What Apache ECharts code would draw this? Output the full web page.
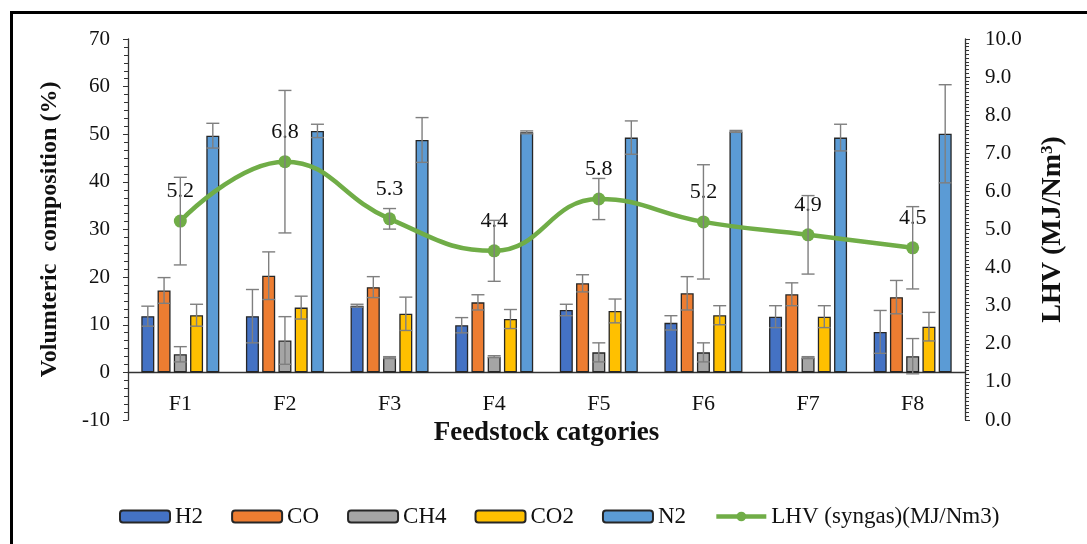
<!DOCTYPE html>
<html>
<head>
<meta charset="utf-8">
<script src="https://cdn.jsdelivr.net/npm/echarts@6/dist/echarts.min.js"></script>
<style>html,body{margin:0;padding:0;background:#fff}#c{width:1087px;height:544px}</style>
</head>
<body>
<div id="c"></div>
<script>
const categories = ['F1','F2','F3','F4','F5','F6','F7','F8'];
const H2 = [11.8, 11.8, 14.0, 9.9, 13.1, 10.4, 11.7, 8.5];
const H2err = [2.1, 5.6, 0.3, 1.6, 1.2, 1.5, 2.3, 4.5];
const CO = [17.2, 20.3, 17.9, 14.7, 18.7, 16.6, 16.4, 15.8];
const COerr = [2.7, 5.0, 2.2, 1.6, 1.8, 3.5, 2.4, 3.5];
const CH4 = [3.8, 6.7, 3.1, 3.3, 4.2, 4.2, 3.1, 3.4];
const CH4err = [1.6, 5.0, 0.2, 0.2, 2.0, 2.0, 0.2, 3.7];
const CO2 = [12.0, 13.6, 12.3, 11.2, 12.9, 12.0, 11.7, 9.6];
const CO2err = [2.3, 2.4, 3.5, 2.0, 2.5, 2.0, 2.3, 3.0];
const N2 = [49.7, 50.7, 48.8, 50.4, 49.3, 50.6, 49.3, 50.1];
const N2err = [2.6, 1.4, 4.7, 0.3, 3.5, 0.2, 2.8, 10.3];
const LHV = [5.22, 6.78, 5.28, 4.44, 5.80, 5.20, 4.86, 4.52];
const LHVerr = [1.15, 1.87, 0.27, 0.8, 0.54, 1.5, 1.03, 1.08];

const FONT = '"Liberation Serif", "Times New Roman", serif';
const BAR_W = 13;
const GAP_RATIO = 0.25;
const barNames = ['H2','CO','CH4','CO2','N2'];
const barData = [H2, CO, CH4, CO2, N2];
const barErr = [H2err, COerr, CH4err, CO2err, N2err];
const barColors = ['#4472C4','#ED7D31','#A5A5A5','#FFC000','#5B9BD5'];
const LINE_NAME = 'LHV (syngas)(MJ/Nm3)';

function errSeries(values, errs, idx, count, yAxisIndex) {
  const data = values.map((v, i) => [i, v - errs[i], v + errs[i]]);
  return {
    type: 'custom',
    yAxisIndex: yAxisIndex,
    z: 10,
    silent: true,
    data: data,
    renderItem: function (params, api) {
      const gap = BAR_W * GAP_RATIO;
      const total = count * BAR_W + (count - 1) * gap;
      const off = count > 1 ? (-total / 2 + BAR_W / 2 + idx * (BAR_W + gap)) : 0;
      const lo = api.coord([api.value(0), api.value(1)]);
      const hi = api.coord([api.value(0), api.value(2)]);
      const x = lo[0] + off;
      const hw = 6.5;
      const st = { stroke: '#7F7F7F', lineWidth: 1.4 };
      return {
        type: 'group',
        children: [
          { type: 'line', shape: { x1: x, y1: lo[1], x2: x, y2: hi[1] }, style: st },
          { type: 'line', shape: { x1: x - hw, y1: lo[1], x2: x + hw, y2: lo[1] }, style: st },
          { type: 'line', shape: { x1: x - hw, y1: hi[1], x2: x + hw, y2: hi[1] }, style: st }
        ]
      };
    }
  };
}

const series = [];
barNames.forEach((n, i) => {
  series.push({
    name: n, type: 'bar', data: barData[i], barWidth: BAR_W, barGap: (GAP_RATIO * 100) + '%',
    itemStyle: { color: barColors[i], borderColor: '#262626', borderWidth: 1.3 }
  });
});
series.push({
  name: LINE_NAME, type: 'line', yAxisIndex: 1, data: LHV, smooth: 0.45,
  symbol: 'circle', symbolSize: 13, z: 5,
  lineStyle: { color: '#70AD47', width: 4.5 },
  itemStyle: { color: '#70AD47' },
  label: { show: true, position: 'top', distance: 12, color: '#111', fontFamily: FONT, fontSize: 22,
           formatter: p => p.value.toFixed(1) }
});
barNames.forEach((n, i) => series.push(errSeries(barData[i], barErr[i], i, 5, 0)));
series.push(errSeries(LHV, LHVerr, 0, 1, 1));

const chart = echarts.init(document.getElementById('c'));
chart.setOption({
  animation: false,
  backgroundColor: '#fff',
  textStyle: { fontFamily: FONT },
  grid: { left: 128, right: 122, top: 39, bottom: 124, containLabel: false },
  graphic: [{ type: 'rect', left: 9, top: 10, shape: { width: 1100, height: 600 },
              style: { fill: 'none', stroke: '#000', lineWidth: 3 }, silent: true }],
  legend: {
    bottom: 11, left: 114, itemWidth: 50, itemHeight: 12, itemGap: 28,
    textStyle: { fontFamily: FONT, fontSize: 23, color: '#111' },
    data: barNames.concat([{ name: LINE_NAME, lineStyle: { width: 4.5, color: '#70AD47' } }])
  },
  xAxis: {
    type: 'category', data: categories,
    axisLine: { onZero: true, lineStyle: { color: '#333', width: 1.3 } },
    axisTick: { show: false },
    axisLabel: { margin: -27, fontSize: 22, color: '#111', fontFamily: FONT },
    name: 'Feedstock catgories', nameLocation: 'middle', nameGap: -3,
    nameTextStyle: { fontSize: 27, fontWeight: 'bold', color: '#111', fontFamily: FONT }
  },
  yAxis: [{
    type: 'value', min: -10, max: 70, interval: 10,
    splitLine: { show: false },
    axisLine: { show: true, onZero: false, lineStyle: { color: '#333', width: 1.3 } },
    axisTick: { show: true, length: 5, lineStyle: { color: '#333' } },
    minorTick: { show: true, splitNumber: 6, length: 4, lineStyle: { color: '#333' } },
    axisLabel: { margin: 18, fontSize: 21, color: '#111', fontFamily: FONT },
    name: 'Volumteric  composition (%)', nameLocation: 'middle', nameGap: 66, nameRotate: 90,
    nameTextStyle: { fontSize: 24, fontWeight: 'bold', color: '#111', fontFamily: FONT }
  }, {
    type: 'value', min: 0, max: 10, interval: 1, position: 'right',
    splitLine: { show: false },
    axisLine: { show: true, onZero: false, lineStyle: { color: '#333', width: 1.3 } },
    axisTick: { show: true, length: 5, lineStyle: { color: '#333' } },
    minorTick: { show: true, splitNumber: 10, length: 4, lineStyle: { color: '#333' } },
    axisLabel: { margin: 20, fontSize: 21, color: '#111', fontFamily: FONT, formatter: v => v.toFixed(1) },
    name: '{t|LHV (MJ/Nm}{s|3}{t|)}', nameLocation: 'middle', nameGap: 74, nameRotate: 90,
    nameTextStyle: { fontSize: 28, fontWeight: 'bold', color: '#111', fontFamily: FONT,
      rich: {
        t: { fontSize: 28, fontWeight: 'bold', color: '#111', fontFamily: FONT },
        s: { fontSize: 17, fontWeight: 'bold', color: '#111', fontFamily: FONT, verticalAlign: 'top', padding: [0, 0, 10, 0] }
      } }
  }],
  series: series
});
</script>
</body>
</html>
